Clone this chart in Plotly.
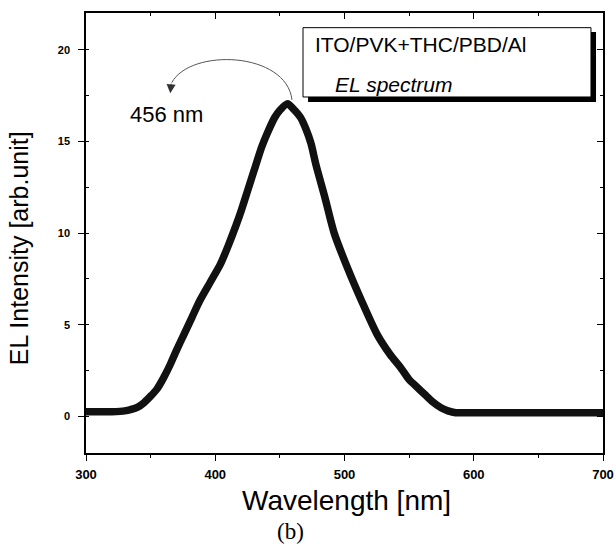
import plotly.graph_objects as go

# ---- data ----
wavelength_nm = [300, 310, 320, 330, 340, 345, 350, 355, 360, 365, 370, 376, 382, 388,
                 396, 404, 410, 416, 420, 425, 430, 436, 440, 446, 450, 456, 460, 466,
                 470, 474, 478, 485, 492, 502, 513, 525, 535, 544, 550, 556, 562, 568,
                 575, 580, 586, 600, 620, 640, 660, 680, 700]
el_intensity = [0.25, 0.25, 0.25, 0.3, 0.5, 0.75, 1.1, 1.5, 2.1, 2.8, 3.6, 4.5, 5.4, 6.3,
                7.3, 8.3, 9.3, 10.4, 11.2, 12.3, 13.4, 14.7, 15.4, 16.3, 16.7, 17.05, 16.8, 16.3,
                15.7, 14.9, 13.7, 11.9, 10.0, 8.15, 6.33, 4.5, 3.4, 2.6, 2.0, 1.6, 1.2, 0.8,
                0.45, 0.3, 0.2, 0.2, 0.2, 0.2, 0.2, 0.2, 0.2]
x_ticks = [300, 400, 500, 600, 700]
y_ticks = [0, 5, 10, 15, 20]
legend_title = "ITO/PVK+THC/PBD/Al"
legend_label = "EL spectrum"
peak_label = "456 nm"

FONT = "Liberation Sans, Arial, sans-serif"

fig = go.Figure()
fig.add_trace(go.Scatter(x=wavelength_nm, y=el_intensity, mode="lines",
                         line=dict(color="#111111", width=7.5, shape="spline", smoothing=0.7),
                         showlegend=False, hoverinfo="skip"))
# invisible trace so that the mirrored (top/right) axes are drawn
fig.add_trace(go.Scatter(x=wavelength_nm, y=el_intensity, mode="lines", xaxis="x2", yaxis="y2",
                         line=dict(color="rgba(0,0,0,0)", width=0), showlegend=False,
                         hoverinfo="skip"))

axis_common = dict(showgrid=False, zeroline=False, showline=True, linecolor="black",
                   linewidth=1.5, tickcolor="black", tickwidth=1.2, automargin=False)

fig.update_layout(
    width=616, height=544,
    margin=dict(l=86, r=13, t=13, b=91, autoexpand=False),
    paper_bgcolor="white", plot_bgcolor="white",
    xaxis=dict(range=[300, 700], tickvals=x_ticks, ticks="outside", ticklen=6,
               tickfont=dict(family=FONT, size=13, color="black", weight="bold"),
               ticklabelstandoff=3,
               minor=dict(dtick=50, ticks="outside", ticklen=3, tickcolor="black"),
               **axis_common),
    xaxis2=dict(range=[300, 700], overlaying="x", side="top", matches="x",
                tickvals=x_ticks, ticks="inside", ticklen=6, showticklabels=False,
                minor=dict(dtick=50, ticks="inside", ticklen=3, tickcolor="black"),
                **axis_common),
    yaxis=dict(range=[-2, 22], tickvals=y_ticks, ticks="outside", ticklen=6,
               tickfont=dict(family=FONT, size=11, color="black", weight="bold"),
               ticklabelstandoff=6,
               minor=dict(dtick=2.5, ticks="inside", ticklen=3, tickcolor="black"),
               **axis_common),
    yaxis2=dict(range=[-2, 22], overlaying="y", side="right", matches="y",
                tickvals=y_ticks, ticks="inside", ticklen=6, showticklabels=False,
                minor=dict(dtick=2.5, ticks="inside", ticklen=3, tickcolor="black"),
                **axis_common),
)

# axis titles (annotations to match the reference's positions)
fig.add_annotation(text="Wavelength [nm]", xref="paper", yref="paper",
                   x=0.504, y=-0.108, xanchor="center", yanchor="middle",
                   showarrow=False, font=dict(family=FONT, size=28, color="black"))
fig.add_annotation(text="EL Intensity [arb.unit]", xref="paper", yref="paper",
                   x=-0.128, y=0.465, xanchor="center", yanchor="middle", textangle=-90,
                   showarrow=False, font=dict(family=FONT, size=25, color="black"))

# panel label
fig.add_annotation(text="(b)", xref="paper", yref="paper", x=0.3965, y=-0.178,
                   xanchor="center", yanchor="middle", showarrow=False,
                   font=dict(family="Liberation Serif, DejaVu Serif, serif", size=23, color="black"))

# legend-like box with drop shadow
fig.add_shape(type="rect", xref="x", yref="y", x0=471.8, x1=694.6, y0=17.15, y1=20.97,
              fillcolor="black", line=dict(width=0), layer="above")
fig.add_shape(type="rect", xref="x", yref="y", x0=467.9, x1=690.7, y0=17.42, y1=21.2,
              fillcolor="white", line=dict(color="black", width=1), layer="above")
fig.add_annotation(text=legend_title, xref="x", yref="y", x=475.6, y=20.27,
                   xanchor="left", yanchor="middle", showarrow=False,
                   font=dict(family=FONT, size=21, color="black"))
fig.add_annotation(text="<i>" + legend_label + "</i>", xref="x", yref="y", x=491.1, y=18.08,
                   xanchor="left", yanchor="middle", showarrow=False,
                   font=dict(family=FONT, size=21, color="black"))

# peak label with curved arrow
fig.add_annotation(text=peak_label, xref="x", yref="y", x=361.9, y=16.44,
                   xanchor="center", yanchor="middle", showarrow=False,
                   font=dict(family=FONT, size=22, color="black"))
fig.add_shape(type="path", xref="x", yref="y",
              path="M 459.4,17.26 C 455,19.9 381,20.1 366.3,18.2",
              line=dict(color="#555555", width=1))
fig.add_annotation(text="", xref="x", yref="y", x=365.2, y=17.62, ax=1, ay=-11,
                   showarrow=True, arrowhead=2, arrowsize=1.8, arrowwidth=1,
                   arrowcolor="#333333")

fig.write_html("out.html", config={"displayModeBar": False},
               post_script="document.body.style.margin='0';document.body.style.overflow='hidden';")
